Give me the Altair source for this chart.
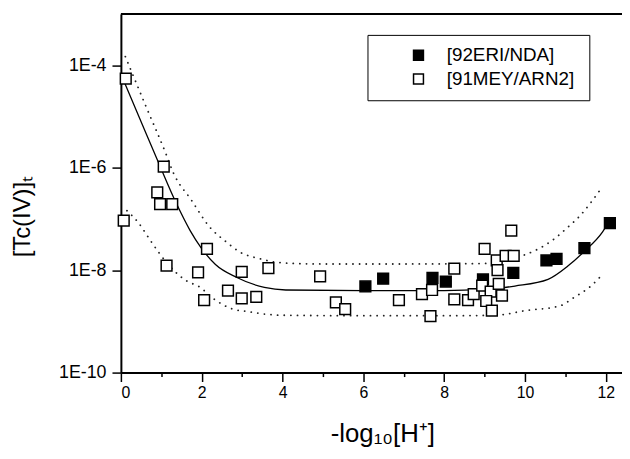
import altair as alt
import pandas as pd

# ---------------- data ----------------
SERIES = ["[92ERI/NDA]", "[91MEY/ARN2]"]

# [92ERI/NDA] (filled squares)
eri_ph = [6.05, 6.49, 7.71, 8.04, 8.96, 9.71, 10.53, 10.78, 11.47, 12.10]
eri_tc = [4.8e-9, 6.8e-9, 7.1e-9, 6.0e-9, 6.6e-9, 8.9e-9, 1.55e-8, 1.66e-8, 2.7e-8, 8.3e-8]

# [91MEY/ARN2] (open squares)
mey_ph = [0.12, 0.07, 1.06, 0.90, 0.97, 1.27, 2.13, 1.13, 1.91, 2.99,
          3.65, 2.65, 2.06, 2.99, 3.35, 4.93, 5.32, 5.55, 6.88, 7.45,
          7.70, 7.66, 8.25, 8.25, 8.59, 8.73, 9.00, 8.94, 9.15, 9.04,
          9.18, 9.35, 9.43, 9.30, 9.32, 9.52, 9.72, 9.66]
mey_tc = [5.5e-5, 9.3e-8, 1.05e-6, 3.3e-7, 1.95e-7, 1.95e-7, 2.6e-8, 1.23e-8, 9.1e-9, 9.3e-9,
          1.1e-8, 4.0e-9, 2.6e-9, 2.8e-9, 3.0e-9, 7.6e-9, 2.35e-9, 1.74e-9, 2.6e-9, 3.4e-9,
          4.1e-9, 1.26e-9, 1.07e-8, 2.7e-9, 2.6e-9, 3.4e-9, 2.6e-8, 5.0e-9, 3.8e-9, 2.5e-9,
          1.62e-9, 5.4e-9, 3.2e-9, 1.55e-8, 1.0e-8, 1.9e-8, 1.9e-8, 5.9e-8]

# fitted curve (solid)
fit_ph = [0.06, 0.50, 0.93, 1.38, 1.71, 1.99, 2.34, 2.87, 3.55, 4.08, 6.0, 8.0, 9.0,
          9.75, 10.57, 11.06, 11.47, 11.92, 12.02]
fit_tc = [5.2e-5, 7.9e-6, 1.26e-6, 1.95e-7, 6.0e-8, 2.7e-8, 1.29e-8, 7.2e-9, 4.6e-9, 4.1e-9,
          4.0e-9, 4.0e-9, 4.2e-9, 4.9e-9, 6.6e-9, 1.2e-8, 2.34e-8, 5.6e-8, 7.4e-8]

# upper confidence band (dotted)
up_ph = [0.11, 0.64, 1.09, 1.30, 1.75, 2.20, 2.60, 2.97, 3.40, 4.04, 5.0, 7.0, 9.0,
         9.50, 9.96, 10.33, 10.69, 11.06, 11.38, 11.65, 11.92]
up_tc = [1.48e-4, 1.45e-5, 2.1e-6, 7.9e-7, 2.3e-7, 6.9e-8, 3.6e-8, 2.2e-8, 1.7e-8, 1.38e-8,
         1.32e-8, 1.32e-8, 1.35e-8, 1.51e-8, 1.95e-8, 2.6e-8, 3.9e-8, 6.9e-8, 1.2e-7, 2.2e-7, 4.3e-7]

# lower confidence band (dotted)
lo_ph = [0.15, 0.44, 0.73, 1.14, 1.65, 1.91, 2.34, 2.73, 3.14, 3.95, 6.0, 8.0, 9.3,
         10.00, 10.86, 11.22, 11.59, 11.92]
lo_tc = [1.45e-7, 8.3e-8, 3.8e-8, 1.38e-8, 6.0e-9, 4.9e-9, 2.6e-9, 1.78e-9, 1.55e-9, 1.32e-9,
         1.29e-9, 1.29e-9, 1.32e-9, 1.62e-9, 2.0e-9, 2.95e-9, 4.6e-9, 8.3e-9]

X_TICKS = list(range(0, 13))
Y_TICKS = [1e-10, 1e-8, 1e-6, 1e-4]
X_TITLE = "-log\u2081\u2080[H\u207a]"
Y_TITLE = "[Tc(IV)]\u209c"

# ---------------- tables ----------------
points = pd.DataFrame({
    "ph": eri_ph + mey_ph,
    "tc": eri_tc + mey_tc,
    "series": [SERIES[0]] * len(eri_ph) + [SERIES[1]] * len(mey_ph),
})
fit = pd.DataFrame({"ph": fit_ph, "tc": fit_tc})
bands = pd.DataFrame({
    "ph": up_ph + lo_ph,
    "tc": up_tc + lo_tc,
    "band": ["upper"] * len(up_ph) + ["lower"] * len(lo_ph),
})

FONT = "Liberation Sans"
W, H = 506, 362

x_enc = alt.X(
    "ph:Q",
    scale=alt.Scale(domain=[0, 12.4], nice=False, zero=False),
    axis=alt.Axis(
        values=X_TICKS,
        labelExpr="datum.value % 2 == 0 ? datum.label : ''",
        tickSize={"condition": {"test": "datum.value % 2 == 1", "value": 4}, "value": 9},
        title=X_TITLE,
        titleFontSize=26,
        titleX=264,
        titleY=49,
        titleBaseline="top",
        titleAlign="center",
        labelFontSize=16,
        labelPadding=3,
        grid=False,
    ),
)
y_enc = alt.Y(
    "tc:Q",
    scale=alt.Scale(type="log", domain=[1e-10, 1e-3], nice=False),
    axis=alt.Axis(
        values=Y_TICKS,
        labelExpr="'1E' + round(log(datum.value) / LN10)",
        tickSize=9,
        title=Y_TITLE,
        titleFontSize=24,
        titleAngle=270,
        titleX=-87,
        titleY=204,
        titleBaseline="bottom",
        titleAlign="center",
        labelFontSize=18,
        labelPadding=6,
        grid=False,
    ),
)

fit_line = alt.Chart(fit).mark_line(
    color="black", strokeWidth=1.3, interpolate="monotone"
).encode(x=x_enc, y=y_enc)

band_lines = alt.Chart(bands).mark_line(
    color="#222222", strokeWidth=1.8, strokeDash=[0.1, 6.6], strokeCap="round",
    interpolate="monotone"
).encode(x=x_enc, y=y_enc, detail="band:N")

pts = alt.Chart(points).mark_point(
    shape="square", filled=True, size=118, stroke="black", strokeWidth=1.5, opacity=1
).encode(
    x=x_enc,
    y=y_enc,
    fill=alt.Fill(
        "series:N",
        scale=alt.Scale(domain=SERIES, range=["black", "white"]),
        legend=alt.Legend(
            title="\u2007\u2007\u2007",
            titleOrient="right",
            titlePadding=4,
            titleFontSize=19,
            titleFont=FONT,
            orient="none",
            legendX=249,
            legendY=21,
            padding=11,
            symbolOffset=31,
            labelOffset=19,
            rowPadding=4,
            symbolType="square",
            symbolSize=100,
            symbolStrokeColor="black",
            symbolStrokeWidth=1.5,
            labelFont=FONT,
            labelFontSize=19,
            labelColor="black",
            strokeColor="black",
        ),
    ),
)

frame_top = alt.Chart(pd.DataFrame({"v": [0]})).mark_rule(
    color="black", strokeWidth=2
).encode(x=alt.value(0), x2=alt.value(W), y=alt.value(0))

chart = (
    alt.layer(band_lines, fit_line, pts, frame_top)
    .properties(
        width=W,
        height=H,
        autosize=alt.AutoSizeParams(type="none"),
        padding={"left": 114, "top": 4, "right": 0, "bottom": 75},
        background="white",
    )
    .configure_view(stroke=None)
    .configure_axis(
        labelFont=FONT,
        labelColor="black",
        titleFont=FONT,
        titleFontWeight="normal",
        titleColor="black",
        domainColor="black",
        domainWidth=2,
        tickColor="black",
        tickWidth=1.5,
    )
)

chart.save("out.html", embed_options={"renderer": "svg", "actions": False})
